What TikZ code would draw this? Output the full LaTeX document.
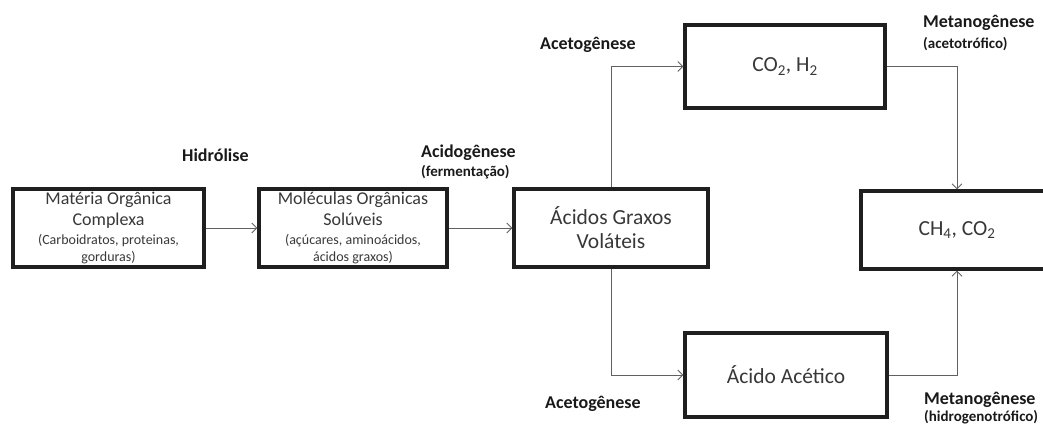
\documentclass[tikz,border=0pt]{standalone}
\usepackage{fontspec}
\setmainfont{Carlito}
\usetikzlibrary{arrows.meta}
\begin{document}
\begin{tikzpicture}[x=1pt,y=-1pt,
  stage/.style={draw=black!88, line width=3.2pt, inner sep=0pt, align=center, text=black!78},
  flow/.style={draw=black!62, line width=0.9pt, -{Straight Barb[length=5pt,width=10pt]}},
  phase/.style={font=\fontsize{18}{20}\selectfont\bfseries, anchor=west, inner sep=0pt, text=black!90},
  subphase/.style={font=\fontsize{15}{17}\selectfont\bfseries, anchor=west, inner sep=0pt, text=black!90}]
\useasboundingbox (0,0) rectangle (1043,426);

% process stages
\node[stage, minimum width=191pt, minimum height=78pt, font=\fontsize{18}{21}\selectfont] (mo) at (108.5,228)
  {Matéria Orgânica\\Complexa\\[-2pt]{\fontsize{14}{17}\selectfont (Carboidratos, proteinas,}\\[-4pt]{\fontsize{14}{17}\selectfont gorduras)}};
\node[stage, minimum width=188pt, minimum height=78pt, font=\fontsize{18}{21}\selectfont] (ms) at (353,228)
  {Moléculas Orgânicas\\Solúveis\\[-2pt]{\fontsize{14}{17}\selectfont (açúcares, aminoácidos,}\\[-4pt]{\fontsize{14}{17}\selectfont ácidos graxos)}};
\node[stage, minimum width=194pt, minimum height=78pt, font=\fontsize{21.5}{24}\selectfont] (agv) at (611,228)
  {Ácidos Graxos\\Voláteis};
\node[stage, minimum width=200pt, minimum height=83pt, font=\fontsize{21.5}{24}\selectfont] (h2) at (785,66.5)
  {CO\textsubscript{2}, H\textsubscript{2}};
\node[stage, minimum width=202pt, minimum height=84pt, font=\fontsize{21.5}{24}\selectfont] (aa) at (786,375)
  {Ácido Acético};
\node[stage, minimum width=192pt, minimum height=78pt, font=\fontsize{21.5}{24}\selectfont] (ch4) at (957,230)
  {CH\textsubscript{4}, CO\textsubscript{2}};

% phase labels
\node[phase] (hid) at (182,155) {Hidrólise};
\node[phase] (acid) at (421,153) {Acidogênese};
\node[subphase] (ferm) at (421,172) {(fermentação)};
\node[phase] (acet1) at (540,45) {Acetogênese};
\node[phase] (met1) at (923,23) {Metanogênese};
\node[subphase] (acto) at (923,44) {(acetotrófico)};
\node[phase] (acet2) at (545,404) {Acetogênese};
\node[phase] (met2) at (924,400) {Metanogênese};
\node[subphase] (hidro) at (924,417) {(hidrogenotrófico)};

% connectors
\draw[flow] (mo.east) -- (ms.west);
\draw[flow] (ms.east) -- (agv.west);
\draw[flow] (agv.north) |- (h2.west);
\draw[flow] (agv.south) |- (aa.west);
\draw[flow] (h2.east) -| (ch4.north);
\draw[flow] (aa.east) -| (ch4.south);
\end{tikzpicture}
\end{document}
